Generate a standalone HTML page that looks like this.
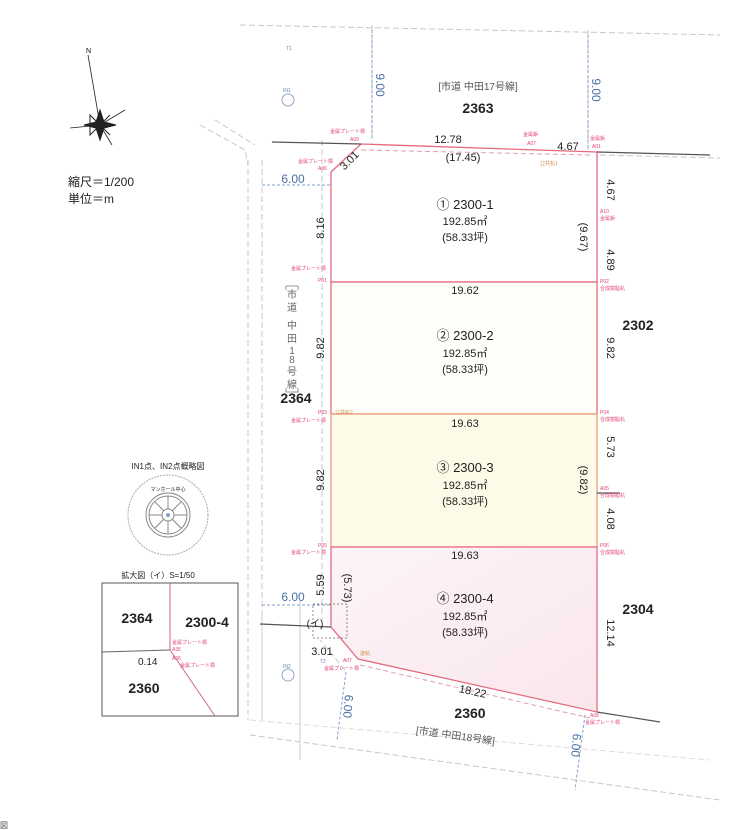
<!DOCTYPE html>
<html><head><meta charset="utf-8"><style>
html,body{margin:0;padding:0;background:#fff;}
svg{display:block;font-family:"Liberation Sans","Noto Sans CJK JP",sans-serif;}
</style></head><body>
<svg width="740" height="830" viewBox="0 0 740 830" xmlns="http://www.w3.org/2000/svg">
<defs><linearGradient id="pk" x1="0" y1="0" x2="1" y2="1"><stop offset="0" stop-color="#fdf4f7"/><stop offset="1" stop-color="#f9e6ec"/></linearGradient></defs>
<g fill="none" stroke="#c8c8c8" stroke-width="1" stroke-dasharray="6 3">
<path d="M240 25 L720 35"/><path d="M372 25 L372 140"/><path d="M588 30 L588 150"/>
<path d="M248 160 L248 720"/><path d="M262 160 L262 610"/><path d="M322 140 L322 630"/>
<path d="M250 735 L720 800"/><path d="M250 720 L710 760" stroke="#ddd"/>
<path d="M600 155 L720 158"/>
<path d="M200 125 L245 150 L248 165"/><path d="M215 120 L255 145"/>
<path d="M345 670 L320 640"/>
</g>
<g stroke="#ccc" fill="none"><path d="M300 600 L300 760"/><path d="M262 610 L262 720"/></g>
<g stroke="#7fa1cc" stroke-width="1" stroke-dasharray="3 2" fill="none">
<path d="M372 30 L372 140"/><path d="M588 35 L588 150"/>
<path d="M262 185 L331 185"/><path d="M262 605 L331 605"/>
<path d="M346 672 L337 740"/><path d="M585 715 L575 790"/>
</g>
<polygon points="331,172 361,144 597,152 597,282 331,282" fill="#fff" stroke="#e56a7f" stroke-width="1.3"/>
<rect x="331" y="282" width="266" height="132" fill="#fffffa" stroke="#e56a7f" stroke-width="1.3"/>
<rect x="331" y="414" width="266" height="133" fill="#fdfbe8" stroke="#e8a07a" stroke-width="1.3"/>
<polygon points="331,547 597,547 597,712 358,659 331,627" fill="url(#pk)" stroke="#e56a7f" stroke-width="1.3"/>
<g stroke="#555" stroke-width="1.2" fill="none">
<path d="M272 142 L361 144"/><path d="M597 152 L710 155"/>
<path d="M597 712 L660 722"/><path d="M597 493 L620 493"/>
<path d="M260 624 L331 627"/>
</g>
<rect x="313" y="604" width="34" height="34" fill="none" stroke="#888" stroke-dasharray="2 2"/>
<g stroke="#e0a0b0" stroke-dasharray="5 3" fill="none"><path d="M361 150 L590 155"/><path d="M360 665 L590 718"/></g>
<g stroke="#222" fill="#222">
<path d="M88 55 L100 125 L125 110 L100 125 L112 145 L100 125 L70 128 L100 125 Z" fill="none" stroke-width="0.8"/>
<polygon points="100,110 104,122 116,125 104,128 100,140 96,128 84,125 96,122"/>
<polygon points="90,115 100,125 110,115 100,125 110,135 100,125 90,135" fill="none"/>
</g>
<text x="86" y="53" font-size="7">N</text>
<text x="68" y="186" font-size="12" fill="#222">縮尺＝1/200</text>
<text x="68" y="203" font-size="12" fill="#222">単位＝m</text>
<g fill="#222" text-anchor="middle">
<text x="478" y="90" font-size="10" fill="#555">[市道 中田17号線]</text>
<text x="478" y="113" font-size="14" font-weight="bold">2363</text>
<text x="448" y="143" font-size="11">12.78</text>
<text x="463" y="161" font-size="11">(17.45)</text>
<text x="568" y="150" font-size="11">4.67</text>
<text x="296" y="403" font-size="14" font-weight="bold">2364</text>
<text x="638" y="330" font-size="14" font-weight="bold">2302</text>
<text x="638" y="614" font-size="14" font-weight="bold">2304</text>
<text x="470" y="718" font-size="14" font-weight="bold">2360</text>
<text x="455" y="739" font-size="10" fill="#555" transform="rotate(8 455 739)">[市道 中田18号線]</text>
<text x="465" y="294" font-size="11">19.62</text>
<text x="465" y="427" font-size="11">19.63</text>
<text x="465" y="559" font-size="11">19.63</text>
<text x="472" y="695" font-size="11" transform="rotate(12 472 695)">18.22</text>
</g>
<g fill="#222" font-size="13" text-anchor="middle">
<text x="465" y="209">① 2300-1</text><text x="465" y="340">② 2300-2</text>
<text x="465" y="472">③ 2300-3</text><text x="465" y="603">④ 2300-4</text>
</g>
<g fill="#222" font-size="11" text-anchor="middle">
<text x="465" y="225">192.85㎡</text><text x="465" y="241">(58.33坪)</text>
<text x="465" y="357">192.85㎡</text><text x="465" y="373">(58.33坪)</text>
<text x="465" y="489">192.85㎡</text><text x="465" y="505">(58.33坪)</text>
<text x="465" y="620">192.85㎡</text><text x="465" y="636">(58.33坪)</text>
</g>
<g fill="#222" font-size="11" text-anchor="middle">
<text transform="translate(324,228) rotate(-90)">8.16</text>
<text transform="translate(324,348) rotate(-90)">9.82</text>
<text transform="translate(324,480) rotate(-90)">9.82</text>
<text transform="translate(324,585) rotate(-90)">5.59</text>
<text transform="translate(344,588) rotate(90)">(5.73)</text>
<text transform="translate(607,190) rotate(90)">4.67</text>
<text transform="translate(580,237) rotate(90)">(9.67)</text>
<text transform="translate(607,260) rotate(90)">4.89</text>
<text transform="translate(607,348) rotate(90)">9.82</text>
<text transform="translate(607,447) rotate(90)">5.73</text>
<text transform="translate(580,480) rotate(90)">(9.82)</text>
<text transform="translate(607,519) rotate(90)">4.08</text>
<text transform="translate(607,633) rotate(90)">12.14</text>
<text transform="translate(352,163) rotate(-45)">3.01</text>
<text x="322" y="655">3.01</text>
<text x="315" y="627" font-size="10">(イ)</text>
</g>
<g fill="#4a6fa8" font-size="12" text-anchor="middle">
<text x="293" y="183">6.00</text><text x="293" y="601">6.00</text>
<text transform="translate(376,85) rotate(90)">9.00</text>
<text transform="translate(592,90) rotate(90)">9.00</text>
<text transform="translate(344,706) rotate(95)">6.00</text>
<text transform="translate(572,745) rotate(95)">6.00</text>
</g>
<g fill="#666" font-size="10" text-anchor="middle">
<text x="292" y="298">市</text><text x="292" y="311">道</text>
<text x="292" y="329">中</text><text x="292" y="342">田</text>
<text x="292" y="354">1</text><text x="292" y="363">8</text>
<text x="292" y="375">号</text><text x="292" y="388">線</text>
</g>
<path d="M286 290 L286 286 L298 286 L298 290 M286 388 L286 392 L298 392 L298 388" fill="none" stroke="#777" stroke-width="0.8"/>
<g fill="#e0457a" font-size="5">
<text x="330" y="133">金属プレート標</text><text x="350" y="141">A09</text>
<text x="298" y="163">金属プレート標</text><text x="318" y="170">A06</text>
<text x="523" y="136">金属鋲</text><text x="527" y="145">A07</text>
<text x="590" y="140">金属鋲</text><text x="592" y="148">A01</text>
<text x="600" y="213">A10</text><text x="600" y="220">金属鋲</text>
<text x="291" y="270">金属プレート標</text><text x="318" y="282">P01</text>
<text x="600" y="283">P02</text><text x="600" y="290">合成樹脂杭</text>
<text x="318" y="414">P03</text><text x="291" y="422">金属プレート標</text>
<text x="600" y="414">P04</text><text x="600" y="421">合成樹脂杭</text>
<text x="600" y="490">A05</text><text x="600" y="497">合成樹脂杭</text>
<text x="318" y="547">P05</text><text x="291" y="554">金属プレート標</text>
<text x="600" y="547">P06</text><text x="600" y="554">合成樹脂杭</text>
<text x="343" y="662">A07</text><text x="324" y="670">金属プレート標</text>
<text x="590" y="717">A08</text><text x="585" y="724">金属プレート標</text>
</g>
<g fill="#c98a40" font-size="5"><text x="540" y="165">公共杭1</text><text x="335" y="414">公共杭2</text><text x="360" y="655">道杭</text></g>
<g stroke="#8fa6cc" fill="none"><circle cx="288" cy="100" r="6"/><circle cx="288" cy="675" r="6"/></g>
<g fill="#6a86b8" font-size="5"><text x="286" y="50">T1</text><text x="283" y="92">IN1</text><text x="283" y="668">IN2</text><text x="320" y="663">T2</text></g>
<text x="168" y="469" font-size="8" fill="#222" text-anchor="middle">IN1点、IN2点概略図</text>
<circle cx="168" cy="515" r="40" fill="none" stroke="#aaa" stroke-dasharray="2 1"/>
<text x="168" y="491" font-size="5" fill="#222" text-anchor="middle">マンホール中心</text>
<g stroke="#888" fill="none"><circle cx="168" cy="515" r="22"/><circle cx="168" cy="515" r="19"/><circle cx="168" cy="515" r="6"/>
<path d="M168 496V509M168 521V534M149 515H162M174 515H187M155 502L164 511M172 519L181 528M181 502L172 511M164 519L155 528"/></g>
<circle cx="168" cy="515" r="2" fill="#7fa1cc"/>
<text x="158" y="578" font-size="8" fill="#222" text-anchor="middle">拡大図（イ）S=1/50</text>
<rect x="102" y="583" width="136" height="133" fill="#fff" stroke="#555"/>
<path d="M170 583 L170 650 L215 716" stroke="#d06a7a" fill="none" stroke-width="1"/>
<path d="M102 652 L170 650" stroke="#666" fill="none"/>
<g fill="#222" font-size="14" text-anchor="middle" font-weight="bold"><text x="137" y="623">2364</text><text x="207" y="627">2300-4</text><text x="144" y="693">2360</text></g>
<text x="138" y="665" font-size="10" fill="#222">0.14</text>
<g fill="#e0457a" font-size="5"><text x="172" y="644">金属プレート標</text><text x="172" y="651">A35</text><text x="172" y="660">A36</text><text x="180" y="667">金属プレート標</text></g>
<text x="0" y="828" font-size="8" fill="#444">図</text>
</svg>
</body></html>
